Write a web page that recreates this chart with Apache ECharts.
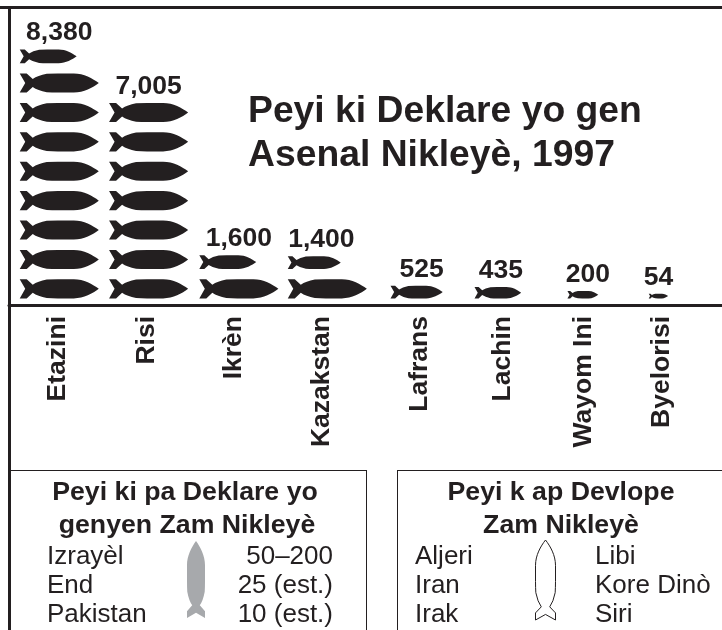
<!DOCTYPE html>
<html>
<head>
<meta charset="utf-8">
<style>html,body{margin:0;padding:0;background:#fff}#main{width:722px;height:630px}</style>
<script src="https://cdn.jsdelivr.net/npm/echarts@6/dist/echarts.min.js"></script>
</head>
<body>
<div id="main"></div>
<script>
var countries = ['Etazini', 'Risi', 'Ikrèn', 'Kazakstan', 'Lafrans', 'Lachin', 'Wayom Ini', 'Byelorisi'];
var warheads = [8380, 7005, 1600, 1400, 525, 435, 200, 54];

// left edge of each column and centre of its name, in column widths
var columnAt = [0, 1, 2.01, 3, 4.15, 5.09, 6.13, 7.04];
var nameAt = [0.42, 1.42, 2.39, 3.38, 4.48, 5.4, 6.31, 7.19];
// the last missile of a column is drawn smaller, sizes as in the source
var lastScale = [0.72, 0, 0.72, 0.67, 0.66, 0.59, 0.39, 0.245];
var numberShift = [0, 0, 0, -6, 5, 3, 5, 0];

var titleText = 'Peyi ki Deklare yo gen\nAsenal Nikleyè, 1997';
var declaredNot = ['Peyi ki pa Deklare yo', 'genyen Zam Nikleyè'];
var declaredNames = ['Izrayèl', 'End', 'Pakistan'];
var declaredCounts = ['50–200', '25 (est.)', '10 (est.)'];
var developing = ['Peyi k ap Devlope', 'Zam Nikleyè'];
var developingLeft = ['Aljeri', 'Iran', 'Irak'];
var developingRight = ['Libi', 'Kore Dinò', 'Siri'];

var ink = '#231f20';
var FONT = '"Liberation Sans", Arial, sans-serif';
var missilePath = 'M0 0L7 0L13 5.5Q18 2 27 0.3Q32 0 38 0L54 0C64 0 73 5 79 9.5C73 14 64 19 54 19L38 19Q32 19 27 18.7Q18 17 13 13.5L7 19L0 19L5.5 9.5Z';

function missile(x, y, w, h) {
    return {
        type: 'path',
        shape: { pathData: missilePath, layout: 'cover', x: x, y: y, width: w, height: h },
        style: { fill: ink }
    };
}

function renderColumn(params, api) {
    var i = params.dataIndex;
    var value = api.value(1);
    var left = api.coord([api.value(0), 0])[0];
    var rowH = api.size([0, 1000])[1];
    var fullW = api.size([1, 0])[0] * 0.885;
    var fullH = rowH * 0.65;
    var full = Math.floor(value / 1000);
    var children = [];
    var topY = 0;

    for (var k = 0; k < full; k++) {
        var cy = api.coord([0, (k + 0.55) * 1000])[1];
        children.push(missile(left, cy - fullH / 2, fullW, fullH));
        topY = cy - fullH / 2;
    }
    if (lastScale[i] > 0) {
        var s = lastScale[i];
        var cy2 = api.coord([0, (full + 0.55) * 1000])[1];
        topY = cy2 + fullH / 2 - fullH * s;
        children.push(missile(left, topY, fullW * s, fullH * s));
    }
    var widest = full > 0 ? fullW : fullW * lastScale[i];
    children.push({
        type: 'text',
        style: {
            text: echarts.format.addCommas(value),
            x: left + widest / 2 + numberShift[i],
            y: topY - 3,
            fill: ink,
            font: 'bold 26.5px ' + FONT,
            textAlign: 'center',
            textVerticalAlign: 'bottom'
        }
    });
    return { type: 'group', children: children };
}

// the two key missiles stand nose up inside the lower boxes
function renderKey() {
    return {
        type: 'group',
        children: [{
            type: 'path', x: 196, y: 579.5, rotation: Math.PI / 2,
            shape: { pathData: missilePath, layout: 'cover', x: -38.5, y: -9, width: 77, height: 18 },
            style: { fill: '#a7a9ac' }
        }, {
            type: 'path', x: 545.5, y: 580, rotation: Math.PI / 2,
            shape: { pathData: missilePath, layout: 'cover', x: -40, y: -10, width: 80, height: 20 },
            style: { fill: '#fff', stroke: ink, lineWidth: 1 }
        }]
    };
}

function label(text, x, y, align, bold) {
    return {
        type: 'text',
        style: {
            text: text, x: x, y: y, fill: ink,
            font: (bold ? 'bold 26.7px ' : '26px ') + FONT,
            textAlign: align, textVerticalAlign: 'middle'
        }
    };
}

function line(x1, y1, x2, y2, w) {
    return {
        type: 'line',
        shape: { x1: x1, y1: y1, x2: x2, y2: y2 },
        style: { stroke: ink, lineWidth: w }
    };
}

var extras = [
    line(0, 7.5, 722, 7.5, 3),
    line(9.5, 7, 9.5, 630, 3),
    line(9, 470.5, 366.5, 470.5, 1),
    line(366.5, 470, 366.5, 630, 1),
    line(397.5, 470.5, 722, 470.5, 1),
    line(397.5, 470, 397.5, 630, 1),
    label(declaredNot[0], 185, 493, 'center', true),
    label(declaredNot[1], 187, 526, 'center', true),
    label(developing[0], 561, 493, 'center', true),
    label(developing[1], 561, 526, 'center', true)
];
var rowY = [557, 586, 615];
for (var r = 0; r < 3; r++) {
    extras.push(label(declaredNames[r], 47, rowY[r], 'left'));
    extras.push(label(declaredCounts[r], 333, rowY[r], 'right'));
    extras.push(label(developingLeft[r], 415, rowY[r], 'left'));
    extras.push(label(developingRight[r], 595, rowY[r], 'left'));
}

var seriesData = [];
for (var i = 0; i < warheads.length; i++) {
    seriesData.push([columnAt[i], warheads[i]]);
}

var myChart = echarts.init(document.getElementById('main'), null, { renderer: 'canvas' });
var option = {
    backgroundColor: '#fff',
    animation: false,
    title: {
        text: titleText,
        left: 243,
        top: 85,
        textStyle: { color: ink, fontFamily: FONT, fontWeight: 'bold', fontSize: 37.3, lineHeight: 44 }
    },
    grid: { left: 9, right: 0, top: 11, bottom: 325 },
    xAxis: {
        type: 'value',
        min: -0.12,
        max: 7.86,
        splitLine: { show: false },
        axisTick: { show: false },
        axisLine: { show: true, onZero: false, lineStyle: { color: ink, width: 3 } },
        axisLabel: {
            customValues: nameAt,
            rotate: 90,
            margin: 11,
            color: ink,
            fontFamily: FONT,
            fontWeight: 'bold',
            fontSize: 26.5,
            hideOverlap: false,
            formatter: function (v) { return countries[nameAt.indexOf(v)]; }
        }
    },
    yAxis: { type: 'value', min: 0, max: 10000, show: false },
    series: [{
        type: 'custom',
        coordinateSystem: 'cartesian2d',
        renderItem: renderColumn,
        clip: false,
        data: seriesData
    }, {
        type: 'custom',
        coordinateSystem: 'none',
        renderItem: renderKey,
        data: [[0]]
    }],
    graphic: extras
};
myChart.setOption(option, true);
</script>
</body>
</html>
